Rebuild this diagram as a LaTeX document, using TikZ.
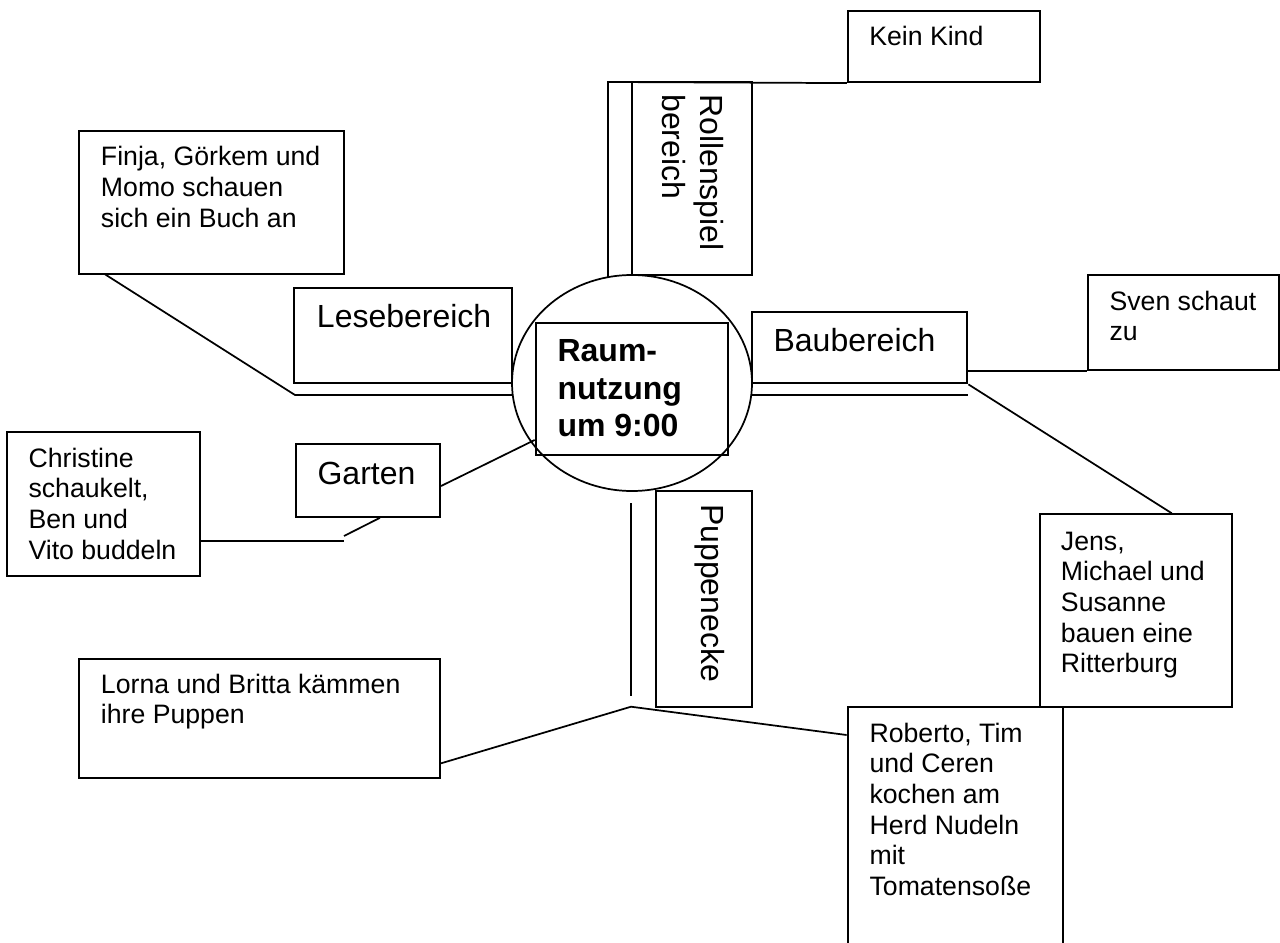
\documentclass[tikz,border=0pt]{standalone}
\usepackage{fontspec}
\setmainfont{Liberation Sans}
\usetikzlibrary{fit,shapes.geometric}
\newcommand{\mlines}[1]{\begin{tabular}[t]{@{}l@{}}#1\end{tabular}}
\begin{document}
\begin{tikzpicture}[x=0.75pt,y=-0.75pt,
  box/.style={draw, line width=1.6pt, inner sep=0pt, rectangle},
  conn/.style={line width=1.3pt},
  small/.style={inner sep=0pt, anchor=base west, font=\fontsize{20}{23}\selectfont},
  big/.style={inner sep=0pt, anchor=base west, font=\fontsize{24}{28.5}\selectfont},
  boldtxt/.style={inner sep=0pt, anchor=base west, font=\fontsize{24}{28.1}\selectfont\bfseries}]
\clip (0,0) rectangle (1280,942);
\fill[white] (0,0) rectangle (1280,942);

% central ellipse and box
\node[ellipse, draw, line width=1.3pt, inner sep=0pt, minimum width=180pt, minimum height=162pt] (circ) at (632,383) {};
\node[box, fit={(535.7,322.7) (728.3,455)}] (center) {};
\node[boldtxt] (tcenter) at (557.3,361.7) {\mlines{Raum-\\nutzung\\um 9:00}};

% area boxes
\node[box, fit={(631.7,82) (752,275)}] (rolle) {};
\node[big, rotate=-90] (trolle) at (700,94) {\mlines{Rollenspiel\\bereich}};

\node[box, fit={(294.3,287.7) (511.7,383.3)}] (lese) {};
\node[big] (tlese) at (316.7,327.7) {Lesebereich};

\node[box, fit={(751.7,311.7) (967.3,383.3)}] (bau) {};
\node[big] (tbau) at (773.3,351.7) {Baubereich};

\node[box, fit={(295.7,444.3) (440,516.7)}] (garten) {};
\node[big] (tgarten) at (317.3,484) {Garten};

\node[box, fit={(656,490.7) (752.3,706.7)}] (puppe) {};
\node[big, rotate=-90] (tpuppe) at (701,504) {Puppenecke};

% children boxes
\node[box, fit={(848,10.7) (1040,82)}] (kein) {};
\node[small] (tkein) at (869,45.7) {Kein Kind};

\node[box, fit={(79.3,130.7) (344.3,274.3)}] (finja) {};
\node[small] (tfinja) at (100.7,165.7) {\mlines{Finja, Görkem und\\Momo schauen\\sich ein Buch an}};

\node[box, fit={(1087.7,275) (1279,370)}] (sven) {};
\node[small] (tsven) at (1109.3,310) {\mlines{Sven schaut\\zu}};

\node[box, fit={(7.3,432.3) (200,575.7)}] (christ) {};
\node[small] (tchrist) at (28.3,467.3) {\mlines{Christine\\schaukelt,\\Ben und\\Vito buddeln}};

\node[box, fit={(1040,514.3) (1232.3,706.7)}] (jens) {};
\node[small] (tjens) at (1060.7,550) {\mlines{Jens,\\Michael und\\Susanne\\bauen eine\\Ritterburg}};

\node[box, fit={(79.3,659) (440,778.3)}] (lorna) {};
\node[small] (tlorna) at (100.7,693.3) {\mlines{Lorna und Britta kämmen\\ihre Puppen}};

\node[box, fit={(847.7,707.3) (1063.3,980)}] (roberto) {};
\node[small] (troberto) at (869.3,742.3) {\mlines{Roberto, Tim\\und Ceren\\kochen am\\Herd Nudeln\\mit\\Tomatensoße}};

% connector points
\coordinate (rtop) at (608,277);
\coordinate (rcorner) at (608,82);
\coordinate (fstart) at (105,274.3);
\coordinate (fbend) at (295,395);
\coordinate (lcirc) at (512.7,395);
\coordinate (rcirc) at (751.3,395);
\coordinate (bauend) at (968,395);
\coordinate (cbend) at (344,540.7);
\coordinate (gstart) at (344,536);
\coordinate (ptop) at (630.7,503.3);
\coordinate (pbot) at (630.7,696);
\coordinate (junc) at (631,706.7);

% connectors
\draw[conn] (rtop) -- (rcorner) -- (kein.south west);
\draw[conn] (fstart) -- (fbend) -- (lcirc);
\draw[conn] (rcirc) -- (bauend);
\draw[conn] (bau.east |- sven.south) -- (sven.south west);
\draw[conn] (bau.south east) -- (jens.north -| 1171.7,0);
\draw[conn] (garten.east |- 0,486) -- (center.west |- 0,440);
\draw[conn] (christ.east |- cbend) -- (cbend);
\draw[conn] (gstart) -- (garten.south -| 380,0);
\draw[conn] (ptop) -- (pbot);
\draw[conn] (junc) -- (lorna.east |- 0,763.3);
\draw[conn] (junc) -- (roberto.west |- 0,735);
\end{tikzpicture}
\end{document}
